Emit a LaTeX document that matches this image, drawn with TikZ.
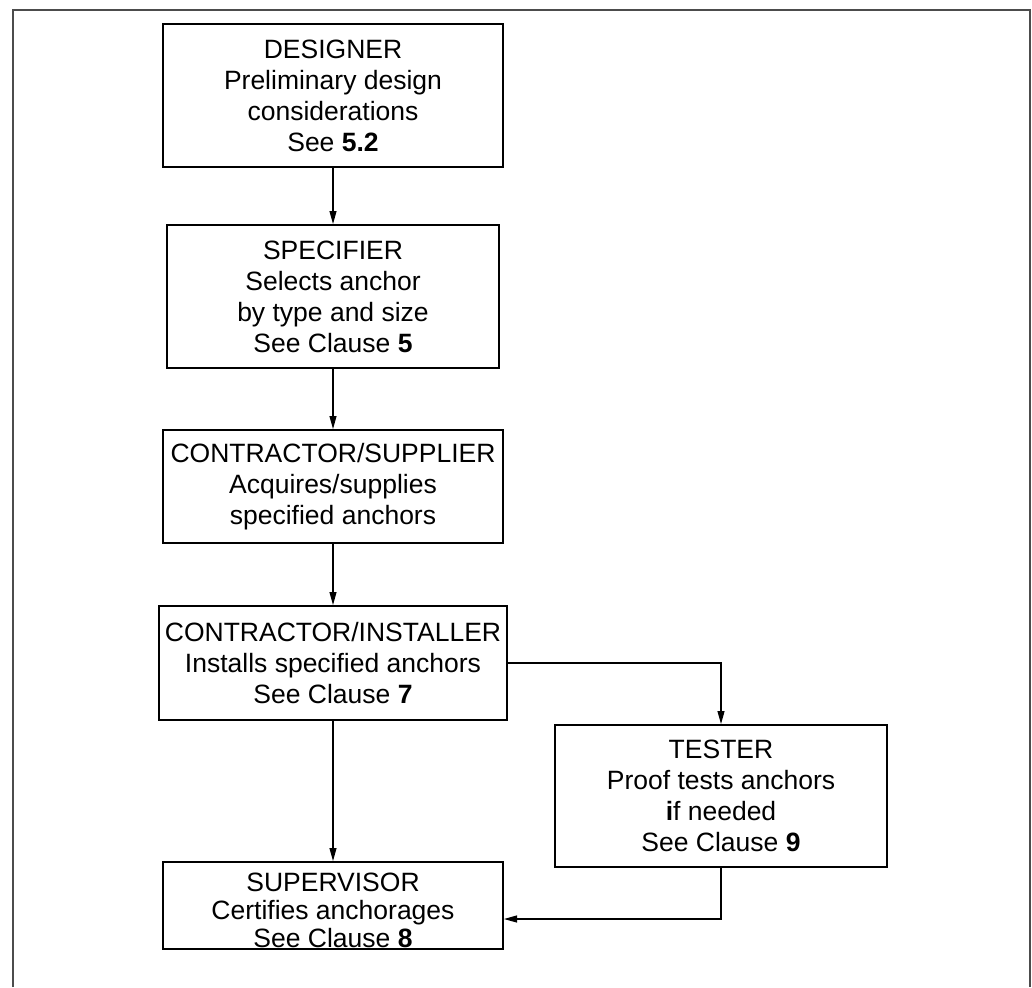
\documentclass[tikz,border=0pt]{standalone}
\usepackage{fontspec}
\setmainfont{Liberation Sans}
\usetikzlibrary{arrows.meta}

\begin{document}
\begin{tikzpicture}[x=1pt, y=-1pt]
\tikzset{ >={Triangle[length=13pt,width=7pt]},
  role/.style={draw, line width=2pt, align=center, inner sep=0pt,
    font=\fontsize{26.5}{31}\selectfont},
  flow/.style={->, line width=1.1pt} }

\useasboundingbox (0,0) rectangle (1032,987);

% open frame (no bottom edge)
\draw [gray!60!black, line width=1.5pt] (13,987) -- (13,10) -- (1030,10) -- (1030,987);

\node [role, minimum width=340pt, minimum height=143pt] (D)  at (333,95.5)
  {DESIGNER\\Preliminary design\\considerations\\See \textbf{5.2}};
\node [role, minimum width=332pt, minimum height=143pt] (S)  at (333,296.5)
  {SPECIFIER\\Selects anchor\\by type and size\\See Clause \textbf{5}};
\node [role, minimum width=340pt, minimum height=113pt] (CS) at (333,486.5)
  {CONTRACTOR/SUPPLIER\\Acquires/supplies\\specified anchors};
\node [role, minimum width=348pt, minimum height=114pt] (CI) at (333,663)
  {CONTRACTOR/INSTALLER\\Installs specified anchors\\See Clause \textbf{7}};
\node [role, minimum width=332pt, minimum height=142pt] (T)  at (721,796)
  {TESTER\\Proof tests anchors\\\textbf{i}f needed\\See Clause \textbf{9}};
\node [role, font=\fontsize{26.5}{28}\selectfont,
       minimum width=340pt, minimum height=87pt]  (SV) at (333,905.5)
  {\rule{0pt}{29pt}SUPERVISOR\\Certifies anchorages\\See Clause \textbf{8}};

\draw [flow] (D)  -- (S);
\draw [flow] (S)  -- (CS);
\draw [flow] (CS) -- (CI);
\draw [flow] (CI) -- (SV);
\draw [flow] (CI.east) -| (T.north);
\draw [flow] (T.south) |- ([yshift=-13.5pt]SV.east);

\end{tikzpicture}
\end{document}
